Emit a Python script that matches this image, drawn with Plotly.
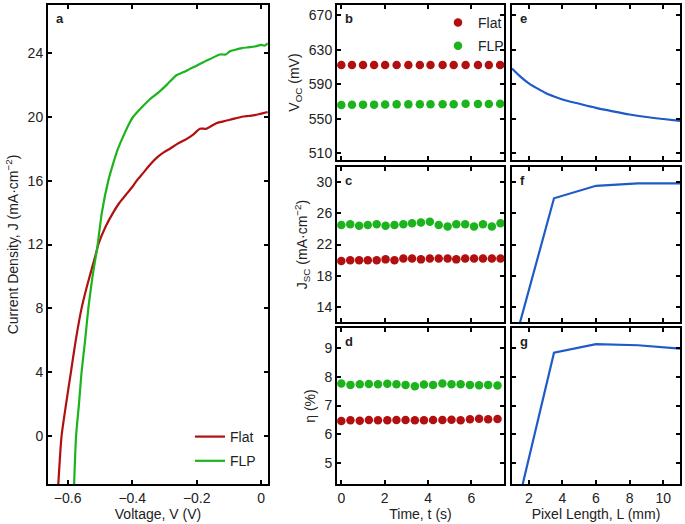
import plotly.graph_objects as go

# ---------------- data ----------------
# panel a : J-V curves
v_flat = [-0.629, -0.619, -0.605, -0.590, -0.575, -0.557, -0.540, -0.510, -0.505, -0.483,
          -0.459, -0.440, -0.420, -0.400, -0.386, -0.365, -0.345, -0.320, -0.300, -0.283,
          -0.260, -0.232, -0.210, -0.190, -0.170, -0.139, -0.120, -0.100, -0.080, -0.060,
          -0.040, -0.020, 0.000, 0.020]
j_flat = [-3.0, 0.0, 2.0, 4.0, 6.0, 8.0, 9.4, 11.6, 12.0, 13.1,
          14.0, 14.6, 15.1, 15.6, 16.0, 16.5, 17.0, 17.5, 17.8, 18.0,
          18.3, 18.6, 18.9, 19.25, 19.25, 19.6, 19.7, 19.8, 19.9, 20.0,
          20.05, 20.1, 20.2, 20.3]
v_flp = [-0.580, -0.574, -0.565, -0.557, -0.546, -0.536, -0.523, -0.510, -0.507, -0.494,
         -0.474, -0.460, -0.444, -0.425, -0.411, -0.397, -0.370, -0.345, -0.320, -0.293,
         -0.263, -0.240, -0.221, -0.200, -0.181, -0.160, -0.128, -0.110, -0.097, -0.080,
         -0.060, -0.040, -0.020, 0.000, 0.010, 0.020]
j_flp = [-3.0, 0.0, 2.0, 4.0, 6.0, 8.0, 10.0, 11.6, 12.0, 14.0,
         16.0, 17.0, 18.0, 18.9, 19.5, 20.0, 20.6, 21.1, 21.5, 22.0,
         22.6, 22.8, 23.0, 23.2, 23.4, 23.6, 23.9, 23.9, 24.1, 24.2,
         24.3, 24.35, 24.4, 24.5, 24.45, 24.6]

# panel b : Voc vs time
t_b = [0.00, 0.49, 1.00, 1.51, 2.02, 2.55, 3.09, 3.62, 4.11, 4.67, 5.18, 5.73, 6.30, 6.80, 7.32]
voc_flat = [612.3, 612.2, 612.3, 612.2, 612.3, 612.2, 612.3, 612.2, 612.3, 612.2, 612.3, 612.2, 612.3, 612.2, 612.3]
voc_flp = [566.0, 566.2, 566.3, 566.3, 566.5, 566.6, 566.6, 566.7, 566.7, 566.8, 566.8, 567.2, 567.0, 567.1, 567.3]

# panel c : Jsc vs time
t_c = [0.00, 0.41, 0.82, 1.22, 1.63, 2.04, 2.45, 2.86, 3.26, 3.67,
       4.08, 4.49, 4.90, 5.30, 5.71, 6.12, 6.53, 6.94, 7.34]
jsc_flat = [19.9, 20.0, 20.0, 20.0, 20.0, 20.1, 20.0, 20.2, 20.2, 20.1,
            20.2, 20.2, 20.2, 20.1, 20.2, 20.2, 20.2, 20.2, 20.2]
jsc_flp = [24.5, 24.6, 24.4, 24.5, 24.6, 24.4, 24.5, 24.6, 24.7, 24.8,
           24.9, 24.5, 24.3, 24.6, 24.6, 24.3, 24.6, 24.3, 24.7]

# panel d : efficiency vs time
t_d = [0.00, 0.42, 0.85, 1.27, 1.69, 2.12, 2.54, 2.96, 3.39, 3.81,
       4.23, 4.66, 5.08, 5.50, 5.93, 6.35, 6.77, 7.20]
eta_flat = [6.46, 6.49, 6.47, 6.50, 6.49, 6.49, 6.50, 6.50, 6.49, 6.49,
            6.50, 6.50, 6.51, 6.49, 6.52, 6.54, 6.52, 6.53]
eta_flp = [7.77, 7.72, 7.74, 7.75, 7.74, 7.76, 7.74, 7.72, 7.67, 7.73,
           7.72, 7.77, 7.74, 7.74, 7.72, 7.71, 7.72, 7.70]

# panels e-g : vs pixel length
L_e = [1.0, 1.5, 2.0, 2.5, 3.0, 3.5, 4.0, 5.0, 6.0, 7.0, 8.0, 9.0, 10.0, 11.0]
voc_L = [608.3, 598.8, 591.0, 585.2, 579.8, 575.8, 572.3, 567.3, 562.5, 558.5, 554.8, 551.9, 549.6, 547.5]
L_fg = [1.0, 3.5, 6.0, 8.5, 11.0]
jsc_L = [8.3, 27.9, 29.5, 29.8, 29.8]
eta_L = [2.7, 8.84, 9.14, 9.10, 8.98]

# ---------------- style ----------------
W, H = 685, 524
RED = "#b21010"
GREEN = "#1cb41c"
BLUE = "#1f5bc8"
FONT = "Liberation Sans, Arial, sans-serif"

def px_x(a, b):
    return [a / W, b / W]

def px_y(top, bottom):
    return [1 - bottom / H, 1 - top / H]

fig = go.Figure()

# panel a
fig.add_trace(go.Scatter(x=v_flat, y=j_flat, mode="lines", name="Flat",
                         line=dict(color=RED, width=2.2, shape="spline", smoothing=0.6),
                         xaxis="x", yaxis="y", legend="legend", legendgroup="a1"))
fig.add_trace(go.Scatter(x=v_flp, y=j_flp, mode="lines", name="FLP",
                         line=dict(color=GREEN, width=2.2, shape="spline", smoothing=0.6),
                         xaxis="x", yaxis="y", legend="legend", legendgroup="a2"))

mk = dict(size=8.5)
# panel b
fig.add_trace(go.Scatter(x=t_b, y=voc_flat, mode="markers", name="Flat",
                         marker=dict(color=RED, **mk), xaxis="x2", yaxis="y2",
                         legend="legend2", legendgroup="b1"))
fig.add_trace(go.Scatter(x=t_b, y=voc_flp, mode="markers", name="FLP",
                         marker=dict(color=GREEN, **mk), xaxis="x2", yaxis="y2",
                         legend="legend2", legendgroup="b2"))
# panel c
fig.add_trace(go.Scatter(x=t_c, y=jsc_flat, mode="markers", showlegend=False,
                         marker=dict(color=RED, **mk), xaxis="x3", yaxis="y3"))
fig.add_trace(go.Scatter(x=t_c, y=jsc_flp, mode="markers", showlegend=False,
                         marker=dict(color=GREEN, **mk), xaxis="x3", yaxis="y3"))
# panel d
fig.add_trace(go.Scatter(x=t_d, y=eta_flat, mode="markers", showlegend=False,
                         marker=dict(color=RED, **mk), xaxis="x4", yaxis="y4"))
fig.add_trace(go.Scatter(x=t_d, y=eta_flp, mode="markers", showlegend=False,
                         marker=dict(color=GREEN, **mk), xaxis="x4", yaxis="y4"))
# panels e, f, g
fig.add_trace(go.Scatter(x=L_e, y=voc_L, mode="lines", showlegend=False,
                         line=dict(color=BLUE, width=2.2, shape="spline", smoothing=0.8),
                         xaxis="x5", yaxis="y5"))
fig.add_trace(go.Scatter(x=L_fg, y=jsc_L, mode="lines", showlegend=False,
                         line=dict(color=BLUE, width=2.2), xaxis="x6", yaxis="y6"))
fig.add_trace(go.Scatter(x=L_fg, y=eta_L, mode="lines", showlegend=False,
                         line=dict(color=BLUE, width=2.2), xaxis="x7", yaxis="y7"))

def ax(domain, rng, tickvals, showlabels=True, title=None, anchor=None, standoff=6):
    d = dict(domain=domain, range=rng, tickvals=tickvals, showticklabels=showlabels,
             showline=True, linecolor="black", linewidth=2, mirror="ticks",
             ticks="inside", ticklen=4, tickwidth=1.5, tickcolor="black",
             showgrid=False, zeroline=False, automargin=False,
             tickfont=dict(size=14, color="#222", family=FONT))
    if anchor:
        d["anchor"] = anchor
    if title:
        d["title"] = dict(text=title, font=dict(size=14, color="#222", family=FONT),
                          standoff=standoff)
    return d

XA = px_x(48, 268)
XB = px_x(337, 504)
XE = px_x(512, 680)
YB = px_y(5, 160)
YC = px_y(167, 322)
YD = px_y(328, 484)
YA = px_y(5, 484)

trng = [-0.2, 7.5]
lrng = [1.0, 11.0]
voc_rng = [502, 682]
jsc_rng = [12.1, 31.9]
eta_rng = [4.27, 9.7]

fig.update_layout(
    width=W, height=H, margin=dict(l=0, r=0, t=0, b=0),
    paper_bgcolor="white", plot_bgcolor="white",
    font=dict(family=FONT, size=14, color="#222"),
    xaxis=ax(XA, [-0.661, 0.021], [-0.6, -0.4, -0.2, 0], True, "Voltage, V (V)", "y", 4),
    yaxis=ax(YA, [-3, 27], [0, 4, 8, 12, 16, 20, 24], True,
             "Current Density, J (mA·cm<sup>−2</sup>)", "x", 6),
    xaxis2=ax(XB, trng, [0, 2, 4, 6], False, None, "y2"),
    yaxis2=ax(YB, voc_rng, [510, 550, 590, 630, 670], True, "V<sub>OC</sub> (mV)", "x2", 6),
    xaxis3=ax(XB, trng, [0, 2, 4, 6], False, None, "y3"),
    yaxis3=ax(YC, jsc_rng, [14, 18, 22, 26, 30], True,
              "J<sub>SC</sub> (mA·cm<sup>−2</sup>)", "x3", 6),
    xaxis4=ax(XB, trng, [0, 2, 4, 6], True, "Time, t (s)", "y4", 4),
    yaxis4=ax(YD, eta_rng, [5, 6, 7, 8, 9], True, "η (%)", "x4", 6),
    xaxis5=ax(XE, lrng, [2, 4, 6, 8, 10], False, None, "y5"),
    yaxis5=ax(YB, voc_rng, [510, 550, 590, 630, 670], False, None, "x5"),
    xaxis6=ax(XE, lrng, [2, 4, 6, 8, 10], False, None, "y6"),
    yaxis6=ax(YC, jsc_rng, [14, 18, 22, 26, 30], False, None, "x6"),
    xaxis7=ax(XE, lrng, [2, 4, 6, 8, 10], True, "Pixel Length, L (mm)", "y7", 4),
    yaxis7=ax(YD, eta_rng, [5, 6, 7, 8, 9], False, None, "x7"),
    legend=dict(x=190 / W, y=1 - 421 / H, xanchor="left", yanchor="top",
                bgcolor="rgba(0,0,0,0)", borderwidth=0, tracegroupgap=3,
                font=dict(size=14, color="#222", family=FONT), itemwidth=30),
    legend2=dict(x=438 / W, y=1 - 7 / H, xanchor="left", yanchor="top",
                 bgcolor="rgba(0,0,0,0)", borderwidth=0, tracegroupgap=2,
                 font=dict(size=14, color="#222", family=FONT), itemwidth=30),
)

labels = [("a", "x", "y"), ("b", "x2", "y2"), ("c", "x3", "y3"), ("d", "x4", "y4"),
          ("e", "x5", "y5"), ("f", "x6", "y6"), ("g", "x7", "y7")]
for txt, xr, yr in labels:
    fig.add_annotation(text="<b>%s</b>" % txt, xref=xr + " domain", yref=yr + " domain",
                       x=0, y=1, xshift=6, yshift=-4, xanchor="left", yanchor="top",
                       showarrow=False, font=dict(size=13, color="#222", family=FONT))

fig.write_html("out.html", config={"displayModeBar": False},
               post_script="document.body.style.margin='0';")
